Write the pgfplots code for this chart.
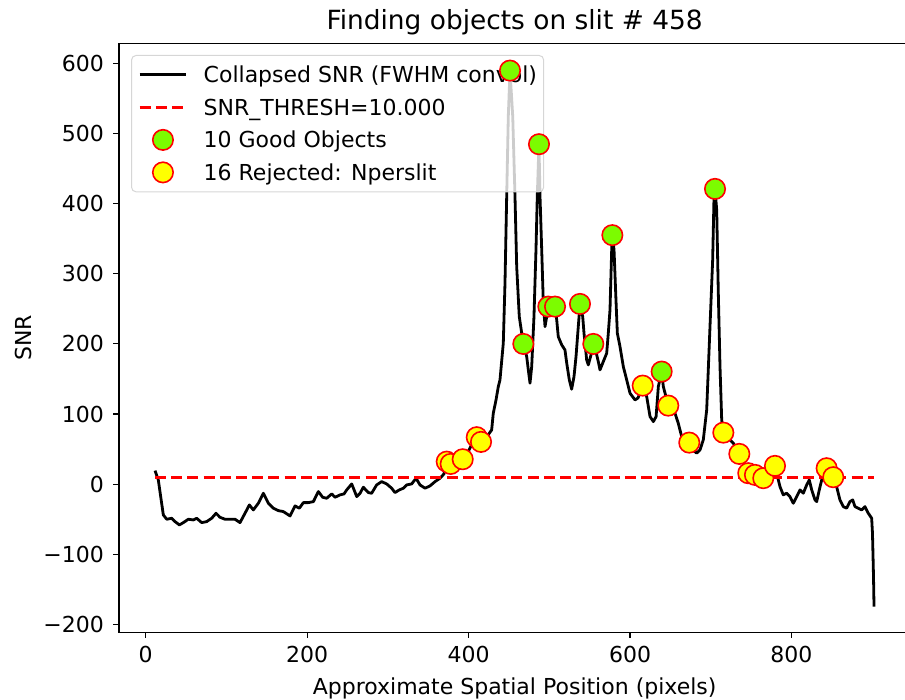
\documentclass[border=0pt]{standalone}
\usepackage{pgfplots}
\pgfplotsset{compat=1.18}
\usepackage{pgfplotstable}
\usepackage{fontspec}
\setmainfont{DejaVu Sans}

\definecolor{goodfill}{RGB}{124,252,0}
\definecolor{rejfill}{RGB}{255,255,0}

\pgfplotsset{
  % common frame of the data area
  slitframe/.style={
    at={(0,0)}, anchor=south west,
    scale only axis, width=395.5pt, height=294.4pt,
    xmin=-33, xmax=947, ymin=-211, ymax=628,
  },
  % legend samples: a short line, or a single marker
  lineleg/.style={legend image code/.code={\draw[##1] (0pt,0pt) -- (23.35pt,0pt);}},
  markleg/.style={legend image code/.code={\path (0pt,0pt) (23.35pt,0pt);
      \draw[##1] plot coordinates {(11.675pt,0pt)};}},
  goodmark/.style={only marks, mark=*, mark size=5.1pt,
    mark options={draw=red, fill=goodfill, line width=0.8pt}},
  rejmark/.style={only marks, mark=*, mark size=5.1pt,
    mark options={draw=red, fill=rejfill, line width=0.8pt}},
}

% collapsed SNR profile along the slit
\pgfplotstableread{
x y
11.5 19.4
15.6 6.1
21.8 -43.8
26.0 -49.9
32.2 -48.5
36.3 -53.3
41.7 -58.0
46.6 -54.7
52.8 -49.9
59.0 -50.9
63.1 -48.5
69.3 -54.7
75.5 -53.3
81.7 -48.5
87.1 -41.4
92.0 -47.1
98.2 -49.9
104.4 -49.9
110.6 -49.9
116.8 -54.7
123.0 -41.4
128.4 -29.5
133.3 -36.6
139.5 -27.1
145.7 -12.9
151.9 -27.1
158.1 -34.2
164.3 -37.6
170.5 -39.0
178.8 -45.2
185.0 -30.9
190.3 -34.2
195.3 -26.2
201.5 -26.2
207.7 -24.8
213.9 -10.5
219.2 -18.6
224.2 -20.0
230.4 -13.8
234.5 -18.6
240.7 -15.2
245.7 -13.8
249.0 -8.1
255.2 0.4
261.4 -17.6
265.5 -12.9
269.6 -4.3
275.8 -11.9
279.9 -12.9
286.1 -1.0
292.3 3.7
298.5 0.4
304.7 -5.7
308.8 -11.9
314.2 -8.1
319.2 -5.7
323.3 -1.0
329.5 0.4
334.9 8.5
339.8 -1.0
346.0 -5.7
352.2 -2.4
358.4 3.7
364.6 8.5
369.5 14.7
372.9 32.2
377.8 28.9
384.4 30.2
392.7 35.6
399.3 46.0
405.5 60.3
410.1 67.0
412.9 64.6
415.4 60.3
421.6 66.0
428.6 77.4
430.6 101.2
434.0 120.1
436.8 139.1
438.9 148.6
443.0 200.9
445.1 286.4
447.2 409.9
449.2 523.9
451.3 589.4
454.7 523.9
457.5 409.9
459.6 310.1
462.8 238.8
467.8 199.9
472.0 181.8
474.0 162.9
476.1 143.9
478.2 167.6
481.0 238.8
483.5 333.9
485.1 409.9
487.2 484.5
488.5 409.9
490.6 333.9
492.6 257.9
494.7 224.6
497.5 243.7
498.8 253.1
503.0 250.0
507.1 253.1
509.2 234.1
511.1 210.3
515.4 198.5
519.4 191.4
521.6 172.4
524.8 148.6
527.7 135.4
530.6 153.3
533.1 181.8
535.9 224.6
537.2 243.7
538.0 256.9
541.4 238.8
543.0 215.2
546.3 177.1
548.3 170.0
551.7 184.3
554.5 199.9
557.9 188.5
560.7 174.7
562.8 162.9
566.9 174.7
571.1 186.7
573.1 215.2
575.2 248.4
577.3 333.9
578.1 354.9
580.2 333.9
582.6 262.6
584.3 215.2
587.6 196.1
591.7 167.6
595.9 148.6
600.0 129.7
606.2 120.1
609.9 122.9
615.7 140.5
620.7 124.8
624.8 96.3
628.9 89.2
632.3 96.3
635.1 139.1
639.2 160.5
641.3 139.1
647.4 112.0
655.7 101.2
659.8 86.9
664.0 67.8
673.4 59.3
678.4 48.9
682.6 44.2
686.7 48.9
690.8 63.2
695.0 105.9
699.1 224.6
702.4 319.7
704.0 405.2
705.3 420.8
707.4 390.9
709.4 272.2
711.5 167.6
713.6 91.6
715.6 73.5
719.8 67.8
728.0 58.4
735.4 43.2
740.3 32.2
744.5 22.8
746.5 15.7
750.5 14.0
754.8 13.3
760.0 10.0
765.1 8.6
769.3 15.7
777.5 20.4
779.6 26.1
781.7 15.7
785.8 -3.4
789.9 -15.2
794.1 -12.8
798.2 -17.7
802.3 -27.1
806.5 -17.7
810.6 -8.1
814.7 -12.8
818.9 -1.0
822.1 6.1
825.1 -8.1
829.2 -22.4
831.3 -24.8
834.5 -8.1
837.5 6.1
841.5 22.8
843.6 22.8
847.5 17.0
851.8 10.0
856.0 -3.4
860.1 -22.4
864.2 -31.9
868.4 -34.2
872.5 -24.8
875.9 -22.4
878.7 -31.9
882.8 -34.2
887.0 -36.6
891.1 -31.9
895.2 -41.3
899.4 -48.5
900.4 -69.8
901.4 -117.4
901.9 -145.9
902.3 -174.4
}\snrcurve

% accepted detections
\pgfplotstableread{
x y
451.3 589.4
467.8 199.9
487.2 484.5
498.8 253.1
507.1 253.1
538.0 256.9
554.5 199.9
578.1 354.9
639.2 160.5
705.3 420.8
}\goodobj

% detections rejected by the per-slit limit
\pgfplotstableread{
x y
372.9 32.2
377.8 28.9
392.7 35.6
410.1 67.0
415.4 60.3
615.7 140.5
647.4 112.0
673.4 59.3
715.6 73.5
735.4 43.2
746.5 15.7
754.8 13.3
765.1 8.6
779.6 26.1
843.6 22.8
851.8 10.0
}\rejobj

\begin{document}
\fontsize{11}{13}\selectfont
\begin{tikzpicture}
% profile, threshold, frame and legend
\begin{axis}[
  slitframe,
  xtick={0,200,400,600,800},
  xticklabels={0,200,400,600,800},
  ytick={-200,-100,0,100,200,300,400,500,600},
  yticklabels={−200,−100,0,100,200,300,400,500,600},
  tick align=outside, xtick pos=bottom, ytick pos=left,
  major tick length=2.85pt,
  tick style={black, line width=0.6pt},
  axis line style={black, line width=0.6pt},
  minor tick num=0,
  xticklabel style={anchor=base, inner sep=0pt, yshift=-12.2pt},
  yticklabel style={anchor=east, inner sep=0pt, xshift=-4.6pt},
  title={Finding objects on slit \# 458},
  title style={at={(axis description cs:0.5,1)}, anchor=base, yshift=1pt,
    inner sep=0pt, font=\fontsize{13.2}{16}\selectfont},
  xlabel={Approximate Spatial Position (pixels)},
  xlabel style={at={(axis description cs:0.5,0)}, anchor=base, yshift=-31.3pt, inner sep=0pt},
  ylabel={SNR},
  ylabel style={at={(axis description cs:-0.1104,0.5)}, anchor=base, inner sep=0pt},
  legend cell align=left,
  legend style={
    at={(axis description cs:0,1)}, anchor=north west,
    xshift=6.0pt, yshift=-5.75pt,
    draw=black!16, line width=0.5pt, rounded corners=2.2pt,
    fill=white, fill opacity=0.8, text opacity=1,
    inner xsep=3.3pt, inner ysep=3.7pt,
    row sep=4.25pt, column sep=8pt,
    font=\fontsize{11}{13}\selectfont,
    nodes={inner sep=0pt, text height=10pt, text depth=2pt},
  },
  legend image post style={fill opacity=1, draw opacity=1},
]
\addplot[black, line width=1.4pt, line join=round, lineleg]
  table {\snrcurve};
\addlegendentry{Collapsed SNR (FWHM convol)}

\addplot[red, line width=1.4pt, dash pattern=on 5.5pt off 2.6pt, lineleg]
  coordinates {(11.5,10) (902.3,10)};
\addlegendentry{SNR\_THRESH=10.000}

\addlegendimage{goodmark, markleg}
\addlegendentry{10 Good Objects}
\addlegendimage{rejmark, markleg}
\addlegendentry{16 Rejected: Nperslit}
\end{axis}

% detections, drawn above the legend box
\begin{axis}[slitframe, hide axis]
\addplot[goodmark] table {\goodobj};
\addplot[rejmark] table {\rejobj};
\end{axis}
\pgfresetboundingbox
\path[use as bounding box] (-59.55pt,-33.85pt) rectangle (392.95pt,316.15pt);
\end{tikzpicture}
\end{document}
